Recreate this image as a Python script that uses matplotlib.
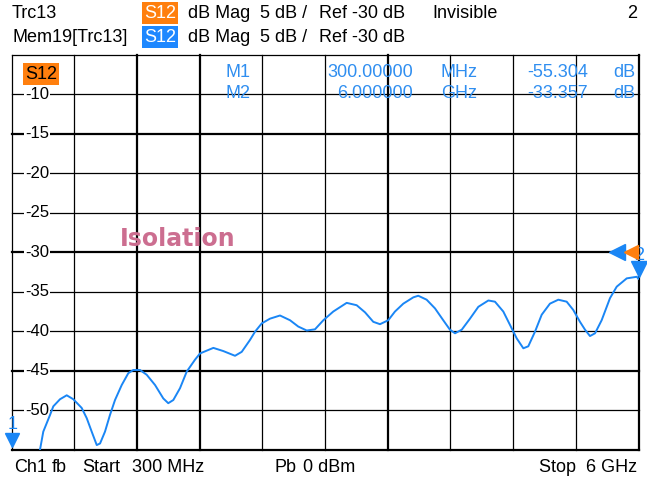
import matplotlib
matplotlib.use("Agg")
import matplotlib.pyplot as plt

# ---------------- data ----------------
freq_ghz = [0.300, 0.377, 0.468, 0.532, 0.559, 0.589, 0.650, 0.680, 0.741, 0.802,
            0.862, 0.938, 0.984, 1.029, 1.075, 1.105, 1.150, 1.195, 1.241, 1.302,
            1.362, 1.407, 1.468, 1.529, 1.605, 1.680, 1.725, 1.771, 1.832, 1.893,
            1.968, 2.014, 2.135, 2.225, 2.332, 2.393, 2.468, 2.514, 2.575, 2.650,
            2.741, 2.832, 2.907, 2.984, 3.059, 3.135, 3.225, 3.347, 3.438, 3.514,
            3.589, 3.650, 3.725, 3.786, 3.862, 3.953, 3.998, 4.074, 4.150, 4.225,
            4.286, 4.332, 4.393, 4.468, 4.544, 4.635, 4.695, 4.771, 4.832, 4.893,
            4.953, 4.998, 5.059, 5.120, 5.195, 5.271, 5.347, 5.407, 5.468, 5.514,
            5.559, 5.605, 5.665, 5.741, 5.802, 5.893, 5.984, 6.000]
s12_db = [-55.3, -57.0, -59.0, -57.5, -55.0, -52.7, -50.6, -49.5, -48.6, -48.1,
          -48.6, -49.7, -51.0, -52.7, -54.4, -54.2, -52.7, -50.6, -48.7, -46.8,
          -45.3, -44.9, -44.9, -45.5, -46.8, -48.5, -49.1, -48.7, -47.2, -45.1,
          -43.6, -42.8, -42.1, -42.5, -43.1, -42.6, -41.1, -40.05, -39.0, -38.4,
          -38.0, -38.6, -39.4, -39.9, -39.75, -38.6, -37.5, -36.4, -36.7, -37.6,
          -38.8, -39.1, -38.6, -37.5, -36.5, -35.7, -35.5, -36.0, -37.1, -38.6,
          -39.8, -40.25, -39.8, -38.4, -36.9, -36.1, -36.25, -37.5, -39.2, -40.9,
          -42.15, -41.9, -40.05, -37.9, -36.5, -36.0, -36.25, -37.3, -38.8, -39.8,
          -40.6, -40.25, -38.6, -35.8, -34.35, -33.3, -33.1, -33.357]

y_ticks = [-10, -15, -20, -25, -30, -35, -40, -45, -50]
y_grid = [-5, -10, -15, -20, -25, -30, -35, -40, -45, -50, -55]
x_start, x_stop = 0.3, 6.0
n_xdiv = 10
thick_y = [-15, -30, -45, -55]
thick_x_idx = [2, 3, 6, 10]
ref_level = -30

marker_names = ["M1", "M2"]
marker_freq = [0.3, 6.0]
marker_stim = ["300.00000", "6.000000"]
marker_unit = ["MHz", "GHz"]
marker_resp = ["-55.304", "-33.357"]
marker_db = [-55.304, -33.357]

# ---------------- style ----------------
W, H = 647, 483
FONT = "Liberation Sans"
FS = 13
BLUE = "#1a86f5"
MBLUE = "#2f8ef0"
ORANGE = "#ff7f0e"
PINK = "#cc6e90"

fig = plt.figure(figsize=(W / 100, H / 100), dpi=100)
fig.patch.set_facecolor("white")

L, R, T, B = 11.5, 638.5, 54.8, 449.8
ax = fig.add_axes([L / W, 1 - B / H, (R - L) / W, (B - T) / H])
ax.set_xlim(x_start, x_stop)
ax.set_ylim(-55, -5)
ax.axis("off")

def px(x, y):
    return x / W, 1 - y / H

# grid
for yv in y_grid:
    ax.axhline(yv, color="black", lw=1.6 if yv in thick_y else 0.9, zorder=1, clip_on=False)
step = (x_stop - x_start) / n_xdiv
for i in range(n_xdiv + 1):
    ax.axvline(x_start + i * step, color="black",
               lw=1.6 if i in thick_x_idx else 0.9, zorder=1, clip_on=False)

# y tick labels with white background
for yv in y_ticks:
    ax.text(0.532, yv, str(yv), ha="center", va="center", fontsize=FS - 1,
            family=FONT, color="black", zorder=3,
            bbox=dict(facecolor="white", edgecolor="none", pad=1.0))

# trace
ax.plot(freq_ghz, s12_db, color=BLUE, lw=1.4, zorder=4, clip_on=True)

# S12 label inside grid
ax.text(0.568, -7.45, "S12", ha="center", va="center", fontsize=FS, family=FONT,
        color="black", zorder=5,
        bbox=dict(facecolor=ORANGE, edgecolor="none", boxstyle="square,pad=0.12"))

# marker readouts
rows_y = [72.5, 94]
for i in range(2):
    yy = rows_y[i]
    fig.text(*px(226, yy), marker_names[i], ha="left", va="center", fontsize=FS, family=FONT, color=MBLUE, zorder=6)
    fig.text(*px(413, yy), marker_stim[i], ha="right", va="center", fontsize=FS, family=FONT, color=MBLUE, zorder=6)
    fig.text(*px(441, yy), marker_unit[i], ha="left", va="center", fontsize=FS, family=FONT, color=MBLUE, zorder=6)
    fig.text(*px(588, yy), marker_resp[i], ha="right", va="center", fontsize=FS, family=FONT, color=MBLUE, zorder=6)
    fig.text(*px(635, yy), "dB", ha="right", va="center", fontsize=FS, family=FONT, color=MBLUE, zorder=6)

# Isolation label
ax.text(1.286, -28.3, "Isolation", ha="left", va="center", fontsize=17,
        family="DejaVu Sans", fontweight="bold", color=PINK, zorder=5)

# markers on trace
ax.plot([marker_freq[0]], [-53.7], marker="v", ms=10, color=BLUE, clip_on=False, zorder=7)
ax.text(marker_freq[0] + 0.01, -51.8, "1", ha="center", va="center", fontsize=FS,
        family=FONT, color=BLUE, zorder=7)
ax.plot([marker_freq[1]], [marker_db[1] + 1.2], marker="v", ms=11, color=BLUE, clip_on=False, zorder=7)
ax.text(marker_freq[1] + 0.005, ref_level - 0.4, "2", ha="center", va="center", fontsize=FS,
        family=FONT, color=BLUE, zorder=7)

# reference level indicators
ax.plot([5.80], [ref_level], marker="<", ms=11, color=BLUE, clip_on=False, zorder=7)
ax.plot([5.93], [ref_level], marker="<", ms=10, color=ORANGE, clip_on=False, zorder=7)

# header
def hdr(x, y, s, **kw):
    fig.text(*px(x, y), s, ha="left", va="center", fontsize=FS, family=FONT, color="black", **kw)

for yy, name, col in [(13, "Trc13", ORANGE), (37, "Mem19[Trc13]", "#1e88ff")]:
    hdr(12, yy, name)
    fig.text(*px(160, yy), "S12", ha="center", va="center", fontsize=FS, family=FONT,
             color="white", bbox=dict(facecolor=col, edgecolor="none", boxstyle="square,pad=0.12"))
    hdr(188, yy, "dB Mag")
    hdr(260, yy, "5 dB /")
    hdr(319, yy, "Ref -30 dB")
hdr(432, 13, "Invisible")
fig.text(*px(637, 13), "2", ha="right", va="center", fontsize=FS, family=FONT, color="black")

# footer
fy = 468
hdr(14, fy, "Ch1")
hdr(52, fy, "fb")
hdr(82, fy, "Start")
hdr(132, fy, "300 MHz")
hdr(275, fy, "Pb")
hdr(303, fy, "0 dBm")
fig.text(*px(637, fy), "Stop  6 GHz", ha="right", va="center", fontsize=FS, family=FONT, color="black")

fig.savefig("out.png", dpi=100)
